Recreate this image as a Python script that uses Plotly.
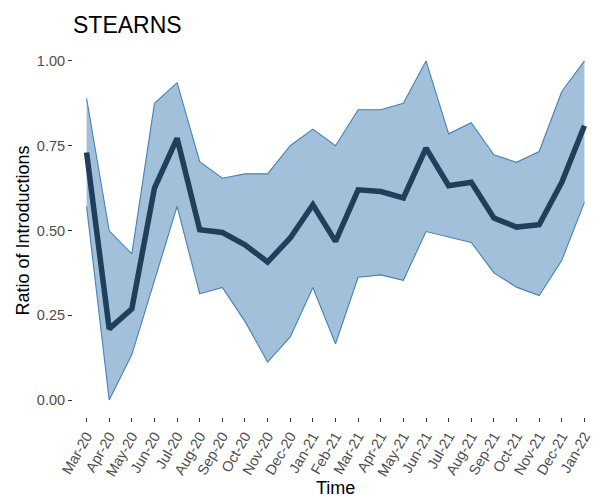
import plotly.graph_objects as go

months = ["Mar-20", "Apr-20", "May-20", "Jun-20", "Jul-20", "Aug-20", "Sep-20", "Oct-20",
          "Nov-20", "Dec-20", "Jan-21", "Feb-21", "Mar-21", "Apr-21", "May-21", "Jun-21",
          "Jul-21", "Aug-21", "Sep-21", "Oct-21", "Nov-21", "Dec-21", "Jan-22"]
ratio_mean = [0.730, 0.210, 0.269, 0.625, 0.772, 0.502, 0.494, 0.458,
              0.407, 0.478, 0.576, 0.468, 0.620, 0.615, 0.596, 0.743,
              0.632, 0.642, 0.537, 0.510, 0.517, 0.642, 0.809]
ratio_upper = [0.890, 0.499, 0.431, 0.875, 0.936, 0.703, 0.654, 0.667,
               0.667, 0.750, 0.799, 0.750, 0.856, 0.856, 0.875, 1.000,
               0.785, 0.818, 0.723, 0.701, 0.733, 0.910, 1.000]
ratio_lower = [0.571, 0.000, 0.134, 0.353, 0.571, 0.313, 0.332, 0.232,
               0.112, 0.186, 0.332, 0.166, 0.362, 0.369, 0.353, 0.497,
               0.480, 0.465, 0.375, 0.333, 0.308, 0.412, 0.583]
y_ticks = [0.0, 0.25, 0.5, 0.75, 1.0]
y_tick_labels = ["0.00", "0.25", "0.50", "0.75", "1.00"]

fig = go.Figure()
fig.add_trace(go.Scatter(x=months, y=ratio_lower, mode="lines",
                         line=dict(color="steelblue", width=1.1), showlegend=False,
                         hoverinfo="skip"))
fig.add_trace(go.Scatter(x=months, y=ratio_upper, mode="lines",
                         line=dict(color="steelblue", width=1.1), fill="tonexty",
                         fillcolor="rgba(70,130,180,0.5)", showlegend=False,
                         hoverinfo="skip"))
fig.add_trace(go.Scatter(x=months, y=ratio_mean, mode="lines",
                         line=dict(color="#1f3f5b", width=5.5), showlegend=False))

tickfont = dict(family="Liberation Sans, Arial, sans-serif", size=14.5, color="#4d4d4d")
fig.update_layout(
    width=605, height=499,
    margin=dict(l=73, r=7, t=44, b=82, autoexpand=False),
    paper_bgcolor="white", plot_bgcolor="white",
    font=dict(family="Liberation Sans, Arial, sans-serif"),
    title=dict(text="STEARNS", x=73 / 605, xanchor="left", xref="container",
               y=1 - 25 / 499, yanchor="middle", yref="container",
               font=dict(size=23, color="black")),
    xaxis=dict(type="category", categoryorder="array", categoryarray=months,
               range=[-0.6, len(months) - 0.4], showgrid=False, zeroline=False,
               showline=False, ticks="outside", ticklen=4, tickwidth=1.1,
               tickcolor="#333333", tickangle=-60, tickfont=tickfont, automargin=False),
    yaxis=dict(range=[-0.05, 1.05], tickvals=y_ticks, ticktext=y_tick_labels,
               showgrid=False, zeroline=False, showline=False, ticks="outside",
               ticklen=4, tickwidth=1.1, tickcolor="#333333", tickfont=tickfont,
               automargin=False),
    annotations=[
        dict(text="Time", xref="paper", yref="paper", x=0.5, y=0, xanchor="center",
             yanchor="middle", yshift=-71, showarrow=False,
             font=dict(size=18, color="black")),
        dict(text="Ratio of Introductions", xref="paper", yref="paper", x=0, y=0.5,
             xanchor="center", yanchor="middle", xshift=-51, textangle=-90,
             showarrow=False, font=dict(size=18, color="black")),
    ],
)

fig.write_html("out.html", config={"displayModeBar": False},
               post_script="document.body.style.margin='0';document.body.style.overflow='hidden';")
